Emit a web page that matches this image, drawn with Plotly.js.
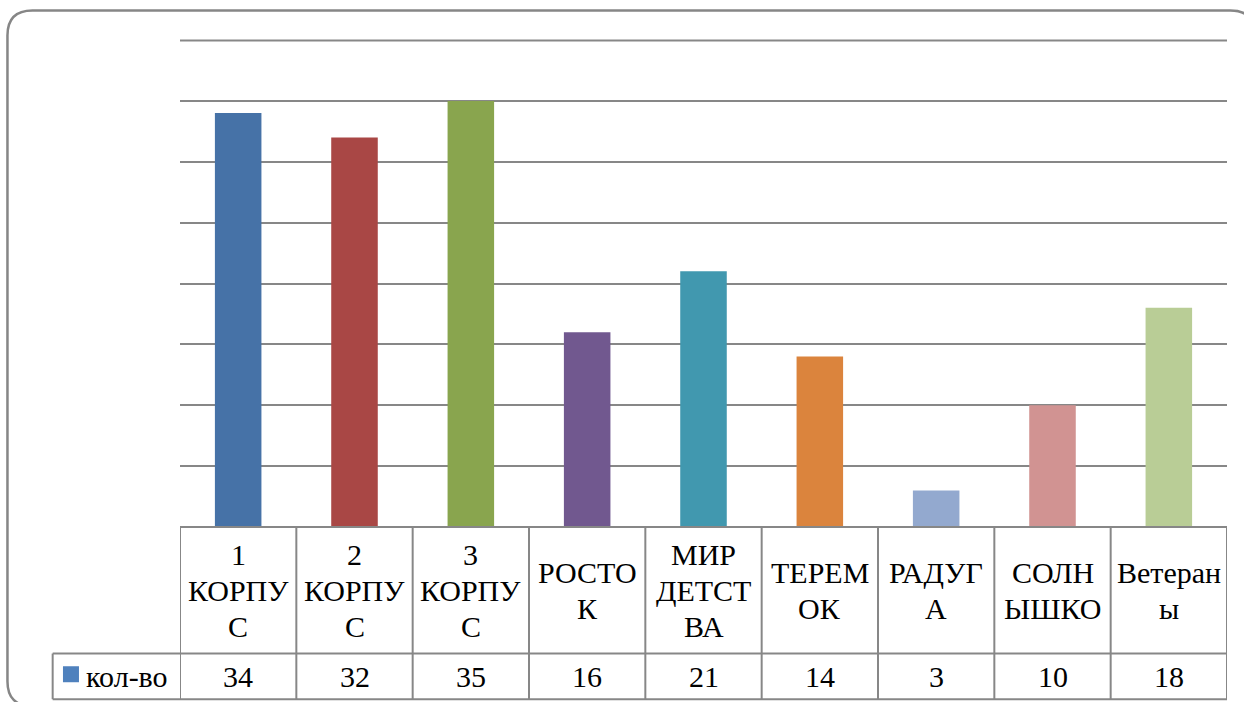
<!DOCTYPE html>
<html><head><meta charset="utf-8">
<script src="https://cdn.plot.ly/plotly-3.0.1.min.js"></script>
<style>
html,body{margin:0;padding:0;background:#fff;overflow:hidden;font-family:'Liberation Serif',serif}
#chart{width:1244px;height:702px}
#chart svg text{font-family:'Liberation Serif','Times New Roman',Tinos,serif !important;}
</style>
</head><body><div id="chart"></div>
<script>
// ---- data ----
const categories = ["1 КОРПУС","2 КОРПУС","3 КОРПУС","РОСТОК","МИР ДЕТСТВА","ТЕРЕМОК","РАДУГА","СОЛНЫШКО","Ветераны"];
const categoryLabelLines = [["1","КОРПУ","С"],["2","КОРПУ","С"],["3","КОРПУ","С"],["РОСТО","К"],["МИР","ДЕТСТ","ВА"],["ТЕРЕМ","ОК"],["РАДУГ","А"],["СОЛН","ЫШКО"],["Ветеран","ы"]];
const values = [34,32,35,16,21,14,3,10,18];
const seriesName = "кол-во";

// ---- styles ----
const barColors = ["#4672A7","#A94745","#89A54E","#71588F","#4198AF","#DB843D","#93A9CF","#D19392","#B9CD96"];
const legendColor = "#4F81BD";
const lineColor = "#878787";
const textFont = {family:'Liberation Serif, serif', size:30, color:'#000000'};

// ---- geometry (pixels) ----
const W = 1244, H = 702;
const L = 180, R = 1226.7, T = 39.5, B = 526.7;
const YMAX = 40;
const px = x => (x - L) / (R - L);
const py = y => (B - y) / (B - T);
const rowMid = 653.3, rowBot = 699, tableLeft = 52.7;
const catCenterY = (B + rowMid) / 2, valCenterY = (rowMid + rowBot) / 2;
const linePitch = 36;

const shapes = [];
const n = categories.length;
shapes.push({type:'line', xref:'paper', yref:'paper', x0:0, x1:1, y0:py(T+0.5), y1:py(T+0.5), line:{color:lineColor,width:2}, layer:'below'});
shapes.push({type:'line', xref:'paper', yref:'paper', x0:px(L), x1:px(R), y0:py(B), y1:py(B), line:{color:lineColor,width:2}});
shapes.push({type:'line', xref:'paper', yref:'paper', x0:px(tableLeft), x1:px(R), y0:py(rowMid), y1:py(rowMid), line:{color:lineColor,width:2}});
shapes.push({type:'line', xref:'paper', yref:'paper', x0:px(tableLeft), x1:px(R), y0:py(rowBot), y1:py(rowBot), line:{color:lineColor,width:2}});
for (let k = 0; k <= n; k++) {
  shapes.push({type:'line', xref:'x', yref:'paper', x0:k-0.5, x1:k-0.5, y0:py(B), y1:py(rowBot), line:{color:lineColor,width:2}});
}
shapes.push({type:'line', xref:'paper', yref:'paper', x0:px(tableLeft), x1:px(tableLeft), y0:py(rowMid), y1:py(rowBot), line:{color:lineColor,width:2}});
shapes.push({type:'rect', xref:'paper', yref:'paper', x0:px(63), x1:px(79), y0:py(682), y1:py(666), fillcolor:legendColor, line:{width:0}});
(function(){
  const x0=7.5, y0=10, x1=1255, y1=706, r=25;
  const P = (x,y) => px(x).toFixed(5)+','+py(y).toFixed(5);
  const path = 'M'+P(x0+r,y0)+' L'+P(x1-r,y0)+' Q'+P(x1,y0)+' '+P(x1,y0+r)+' L'+P(x1,y1-r)+' Q'+P(x1,y1)+' '+P(x1-r,y1)+
    ' L'+P(x0+r,y1)+' Q'+P(x0,y1)+' '+P(x0,y1-r)+' L'+P(x0,y0+r)+' Q'+P(x0,y0)+' '+P(x0+r,y0)+' Z';
  shapes.push({type:'path', xref:'paper', yref:'paper', path:path, line:{color:'#868686',width:2.5}});
})();

const annotations = [];
categories.forEach((c, i) => {
  const lines = categoryLabelLines[i];
  lines.forEach((t, j) => {
    annotations.push({xref:'x', yref:'paper', x:i, y:py(catCenterY + (j-(lines.length-1)/2)*linePitch),
      text:t, showarrow:false, xanchor:'center', yanchor:'middle', font:textFont});
  });
  annotations.push({xref:'x', yref:'paper', x:i, y:py(valCenterY), text:String(values[i]), showarrow:false,
    xanchor:'center', yanchor:'middle', font:textFont});
});
annotations.push({xref:'paper', yref:'paper', x:px(84), y:py(valCenterY), text:seriesName, showarrow:false,
  xanchor:'left', yanchor:'middle', font:textFont});

const trace = {type:'bar', x:categories, y:values, name:seriesName, marker:{color:barColors, line:{width:0}}, width:0.4};

const layout = {
  width:W, height:H, autosize:false,
  margin:{l:L, r:W-R, t:T, b:H-B, pad:0},
  paper_bgcolor:'#fff', plot_bgcolor:'#fff',
  showlegend:false,
  font:{family:'Liberation Serif, serif'},
  xaxis:{type:'category', range:[-0.5, n-0.5], showticklabels:false, showgrid:false, zeroline:false, showline:false, ticks:''},
  yaxis:{range:[0,YMAX], dtick:5, tick0:0, showticklabels:false, showgrid:true, gridcolor:lineColor, gridwidth:2, zeroline:false, showline:false, ticks:''},
  shapes:shapes, annotations:annotations
};
Plotly.newPlot('chart', [trace], layout, {displayModeBar:false, staticPlot:true});
</script></body></html>
